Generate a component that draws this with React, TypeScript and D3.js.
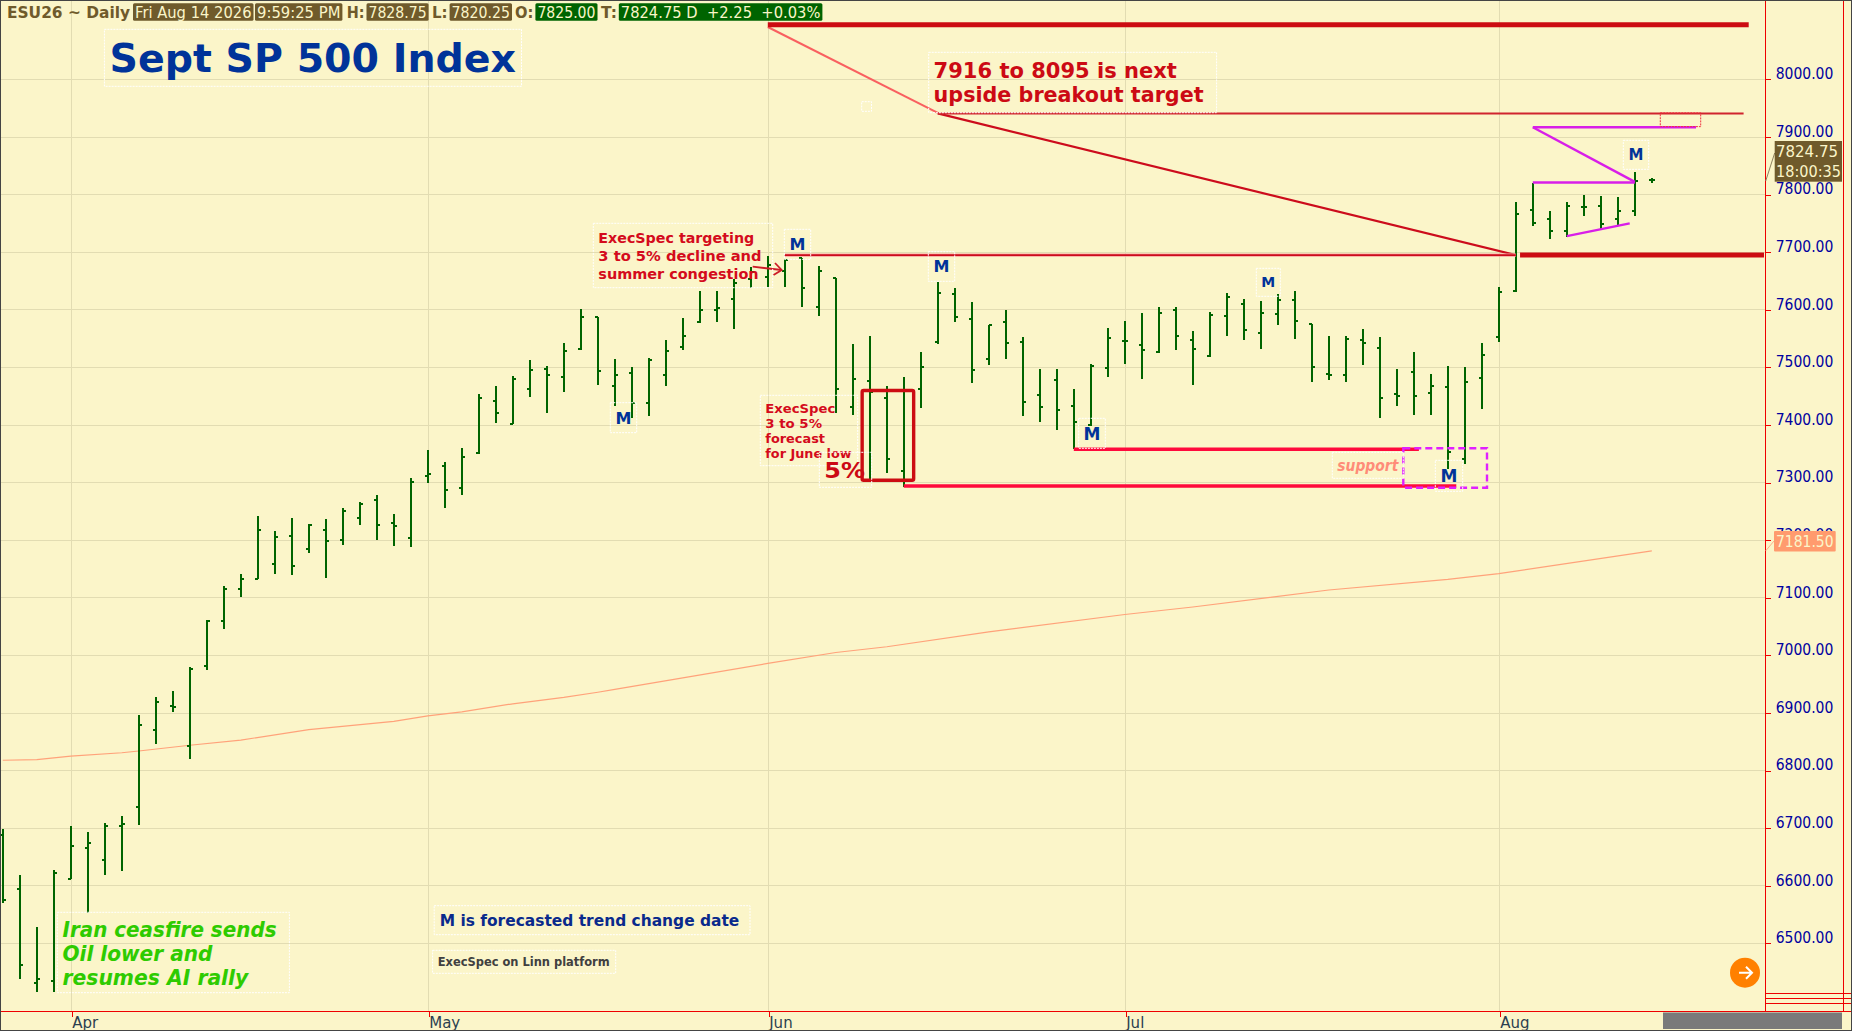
import React, { useEffect, useRef } from 'react';
import * as d3 from 'd3';

const WIDTH = 1852;
const HEIGHT = 1031;

// daily OHLC bars
const barOpen = [6689,6594,6431,6435,6612,6666,6645,6704,6736,6870,6913,6842,6981,7060,7116,7133,7159,7208,7185,7218,7200,7239,7270,7230,7204,7312,7328,7291,7351,7442,7402,7463,7498,7484,7532,7588,7467,7490,7438,7486,7535,7578,7599,7618,7653,7657,7668,7690,7605,7655,7432,7476,7447,7321,7462,7544,7628,7584,7514,7578,7544,7452,7478,7433,7400,7499,7545,7539,7526,7599,7547,7519,7589,7610,7559,7592,7617,7575,7488,7486,7547,7533,7453,7492,7455,7466,7341,7481,7552,7633,7773,7758,7737,7779,7780,7758,7772,7825];
const barHigh = [6699,6618,6529,6628,6704,6694,6709,6722,6897,6928,6939,6979,7061,7120,7142,7242,7216,7238,7228,7237,7256,7266,7278,7245,7308,7356,7336,7360,7454,7468,7485,7513,7502,7542,7601,7588,7514,7500,7517,7547,7585,7632,7632,7654,7675,7694,7688,7690,7676,7655,7541,7555,7468,7484,7527,7649,7638,7614,7573,7600,7552,7498,7498,7462,7506,7569,7581,7595,7604,7604,7564,7597,7630,7618,7616,7628,7633,7576,7554,7555,7566,7552,7498,7526,7488,7503,7500,7543,7640,7787,7821,7771,7787,7799,7797,7795,7839,7828.75];
const barLow = [6570,6439,6415,6415,6612,6553,6618,6625,6705,6846,6901,6820,6974,7046,7101,7132,7142,7139,7178,7135,7191,7226,7200,7190,7189,7300,7256,7279,7350,7404,7401,7449,7421,7458,7531,7469,7433,7412,7415,7467,7530,7577,7578,7566,7637,7640,7639,7605,7589,7421,7417,7304,7316,7292,7429,7541,7578,7473,7505,7514,7415,7405,7391,7359,7399,7483,7506,7480,7525,7530,7469,7518,7554,7547,7532,7573,7549,7474,7478,7474,7504,7412,7433,7417,7417,7324,7332,7427,7544,7631,7746,7723,7727,7763,7738,7747,7763,7820.25];
const barClose = [6576,6462,6438,6622,6669,6674,6703,6708,6879,6919,6910,6977,7060,7116,7133,7218,7205,7155,7227,7199,7251,7263,7227,7225,7301,7315,7288,7345,7447,7421,7479,7496,7486,7529,7587,7493,7486,7438,7512,7528,7554,7599,7603,7646,7665,7677,7687,7637,7667,7463,7479,7457,7341,7460,7500,7629,7588,7495,7573,7543,7440,7431,7426,7405,7503,7551,7545,7530,7594,7554,7532,7591,7622,7565,7594,7617,7580,7500,7486,7549,7542,7447,7450,7450,7467,7353,7474,7521,7631,7767,7751,7736,7780,7779,7749,7772,7823,7824.75];

// 200 day average
const maIndex = [0,2,4,7,8,11,14,18,23,25,27,30,33,35,36,40,45,49,52,58,66,70,78,85,88,97];
const maValue = [6818,6819,6825,6831,6834,6844,6853,6871,6885.5,6895,6902,6916,6927,6936,6941,6961,6986,7005,7015,7041,7071,7084,7113.5,7132,7142,7181.5];

const priceTicks = [6500,6600,6700,6800,6900,7000,7100,7200,7300,7400,7500,7600,7700,7800,7900,8000];
const monthIndex = [4,25,45,66,88];
const monthLabels = ['Apr','May','Jun','Jul','Aug'];

// trend lines as [start bar, start price, end bar, end price]
const darkThick = [[45,8095,102.7,8095],[89.25,7695,103.6,7695]];
const pinkThick = [[53,7294,85.5,7294],[63,7358,83.3,7358]];
const magentaLines = [[90,7917,99.6,7917],[90,7917,96,7822],[90,7821,96,7821],[92,7728,95.7,7750]];

const headerItems = [
  { t: 'ESU26 ~ Daily', x0: 7, x1: 130, fill: null },
  { t: 'Fri Aug 14 2026', x0: 133, x1: 253.5, fill: '#6f5a2b' },
  { t: '9:59:25 PM', x0: 255, x1: 342.4, fill: '#6f5a2b' },
  { t: 'H:', x0: 346.8, x1: 364.6, fill: null },
  { t: '7828.75', x0: 366.5, x1: 428.6, fill: '#6f5a2b' },
  { t: 'L:', x0: 432, x1: 447.6, fill: null },
  { t: '7820.25', x0: 449.6, x1: 512, fill: '#6f5a2b' },
  { t: 'O:', x0: 515, x1: 533.4, fill: null },
  { t: '7825.00', x0: 535.4, x1: 597.5, fill: '#006400' },
  { t: 'T:', x0: 601, x1: 617, fill: null },
  { t: '7824.75 D  +2.25  +0.03%', x0: 618.8, x1: 822.4, fill: '#006400' }
];

const notes = [
  { box: [104.4,29.3,521.5,86.3], color: '#003399', size: 38.5, weight: 'bold', lines: [{ t: 'Sept SP 500 Index', x: 109.5, y: 72.3, w: 406.5 }] },
  { box: [928.7,52.3,1216.6,112.7], color: '#cc0a14', size: 22, weight: 'bold', lines: [{ t: '7916 to 8095 is next', x: 933.6, y: 77.7, w: 243.3 }, { t: 'upside breakout target', x: 933.6, y: 102.3, w: 270 }] },
  { box: [593.3,223.3,772.7,287.7], color: '#d40b1c', size: 14.5, weight: 'bold', lines: [{ t: 'ExecSpec targeting', x: 598.3, y: 243.3, w: 156 }, { t: '3 to 5% decline and', x: 598.3, y: 261.3, w: 163.3 }, { t: 'summer congestion', x: 598.3, y: 279.3, w: 160.3 }] },
  { box: [760.3,395.3,857.7,465.7], color: '#d40b1c', size: 12.5, weight: 'bold', lines: [{ t: 'ExecSpec', x: 765.3, y: 413.3, w: 70 }, { t: '3 to 5%', x: 765.3, y: 428.3, w: 56.7 }, { t: 'forecast', x: 765.3, y: 443.3, w: 59.7 }, { t: 'for June low', x: 765.3, y: 458.3, w: 86.3 }] },
  { box: [819.3,452.3,871.7,487.3], color: '#cc0a14', size: 22, weight: 'bold', lines: [{ t: '5%', x: 824.3, y: 478.3, w: 40.7 }] },
  { box: [1332.3,452.3,1403.3,478.3], color: '#ff8c78', size: 15, weight: 'bold', italic: true, lines: [{ t: 'support', x: 1337.3, y: 470.7, w: 61 }] },
  { box: [57.3,912.3,289.4,992.7], color: '#2ecb00', size: 20.5, weight: 'bold', italic: true, lines: [{ t: 'Iran ceasfire sends', x: 62.5, y: 936.7, w: 214 }, { t: 'Oil lower and', x: 62.5, y: 960.7, w: 149.9 }, { t: 'resumes AI rally', x: 62.5, y: 984.7, w: 185.8 }] },
  { box: [434.2,905.7,750,934.7], color: '#0a2a8c', size: 16.5, weight: 'bold', lines: [{ t: 'M is forecasted trend change date', x: 439.7, y: 926, w: 299.6 }] },
  { box: [432.6,950.3,615.7,973.3], color: '#404040', size: 12, weight: 'bold', lines: [{ t: 'ExecSpec on Linn platform', x: 437.7, y: 966, w: 172 }] }
];

const mBoxes = [
  [610.3,402.7,636.7,432.7,16],
  [784.3,229.3,810.7,259.3,16],
  [928.3,251.7,954.7,281.3,16],
  [1078.7,418.3,1105.3,448.3,17],
  [1256.3,268.3,1280.3,296.3,14],
  [1435.3,460.3,1462.7,491.3,17],
  [1623.3,140.3,1648.7,169.3,15]
];

const FONT = '"DejaVu Sans", sans-serif';

export default function App() {
  const svgRef = useRef<SVGSVGElement>(null);

  useEffect(() => {
    if (!svgRef.current) return;
    const svg = d3.select(svgRef.current);
    svg.selectAll('*').remove();

    const plotRight = 1765.7;
    const plotBottom = 1011.7;
    const xScale = d3.scaleLinear().domain([0, 97]).range([2.8, 1651.8]);
    const yScale = d3.scaleLinear().domain([6500, 8000]).range([943.4, 79.4]);

    const addText = (g: any, t: string, x: number, y: number, size: number, color: string, w?: number, weight = 'normal', italic = false) => {
      const el = g.append('text')
        .attr('x', x).attr('y', y)
        .attr('font-family', FONT).attr('font-size', size)
        .attr('font-weight', weight).attr('font-style', italic ? 'italic' : 'normal')
        .attr('fill', color).attr('xml:space', 'preserve')
        .style('white-space', 'pre')
        .text(t);
      if (w) el.attr('textLength', w).attr('lengthAdjust', 'spacingAndGlyphs');
      return el;
    };

    const dashedBox = (g: any, x0: number, y0: number, x1: number, y1: number) => {
      g.append('rect')
        .attr('x', x0).attr('y', y0)
        .attr('width', x1 - x0).attr('height', y1 - y0)
        .attr('fill', 'none').attr('stroke', '#ffffff')
        .attr('stroke-width', 1).attr('stroke-dasharray', '2 1');
    };

    const trend = (g: any, d: number[], color: string, width: number) => {
      g.append('line')
        .attr('x1', xScale(d[0])).attr('y1', yScale(d[1]))
        .attr('x2', xScale(d[2])).attr('y2', yScale(d[3]))
        .attr('stroke', color).attr('stroke-width', width);
    };

    // page background and frame
    svg.append('rect').attr('width', WIDTH).attr('height', HEIGHT).attr('fill', '#fbf5c9');

    // grid
    const grid = svg.append('g').attr('shape-rendering', 'crispEdges');
    priceTicks.forEach(p => {
      grid.append('line')
        .attr('x1', 1).attr('x2', plotRight)
        .attr('y1', yScale(p)).attr('y2', yScale(p))
        .attr('stroke', '#e2dcb2');
    });
    monthIndex.forEach(i => {
      grid.append('line')
        .attr('x1', xScale(i) + 0.9).attr('x2', xScale(i) + 0.9)
        .attr('y1', 0).attr('y2', plotBottom)
        .attr('stroke', '#e2dcb2');
    });

    // moving average
    const maLine = d3.line<number>()
      .x((_, k) => xScale(maIndex[k]))
      .y(d => yScale(d));
    svg.append('path')
      .attr('d', maLine(maValue))
      .attr('fill', 'none').attr('stroke', '#ffa27a').attr('stroke-width', 1.2);

    // OHLC bars
    const bars = svg.append('g').attr('fill', '#006400').attr('shape-rendering', 'crispEdges');
    barHigh.forEach((high, i) => {
      const x = Math.round(xScale(i));
      bars.append('rect')
        .attr('x', x - 1).attr('y', yScale(high))
        .attr('width', 2).attr('height', yScale(barLow[i]) - yScale(high));
      bars.append('rect')
        .attr('x', x - 3).attr('y', yScale(barOpen[i]) - 1)
        .attr('width', 3).attr('height', 2);
      bars.append('rect')
        .attr('x', x).attr('y', yScale(barClose[i]) - 1)
        .attr('width', 3).attr('height', 2);
    });

    // trend lines
    const lines = svg.append('g');
    trend(lines, [45, 8091, 55, 7942], '#f96060', 2);
    trend(lines, [55, 7941, 89, 7695], '#cc0c1c', 2.2);
    trend(lines, [55, 7941, 102.4, 7941], '#d0242e', 2);
    trend(lines, [46, 7695, 89, 7695], '#f8a0a0', 3.2);
    trend(lines, [46, 7695, 89, 7695], '#cc0c1c', 1.6);
    darkThick.forEach(d => trend(lines, d, '#cc0c12', 5));
    pinkThick.forEach(d => trend(lines, d, '#ff0a3c', 3.5));
    magentaLines.forEach(d => trend(lines, d, '#d81ee8', 2.4));

    // forecast boxes
    lines.append('rect')
      .attr('x', xScale(50.55)).attr('y', yScale(7460))
      .attr('width', xScale(53.58) - xScale(50.55)).attr('height', yScale(7304) - yScale(7460))
      .attr('rx', 1.5)
      .attr('fill', 'none').attr('stroke', '#cc0c12').attr('stroke-width', 3.4);
    lines.append('rect')
      .attr('x', 1403.3).attr('y', 448.3).attr('width', 83.7).attr('height', 39.4)
      .attr('fill', 'none').attr('stroke', '#e020ff').attr('stroke-width', 2.4).attr('stroke-dasharray', '7 4');
    lines.append('rect')
      .attr('x', 1660.3).attr('y', yScale(7942)).attr('width', 40.4).attr('height', yScale(7918) - yScale(7942))
      .attr('fill', 'none').attr('stroke', '#f03040').attr('stroke-width', 1).attr('stroke-dasharray', '2 1');

    // arrow into the June high
    const arrow = svg.append('g').attr('stroke', '#cc1c28').attr('stroke-width', 1.8).attr('fill', 'none');
    arrow.append('path').attr('d', 'M752.7,266.7L781.7,270');
    arrow.append('path').attr('d', 'M775,263L781.7,270L773.5,275');

    // notes
    const noteLayer = svg.append('g');
    notes.forEach(n => {
      dashedBox(noteLayer, n.box[0], n.box[1], n.box[2], n.box[3]);
      n.lines.forEach(l => addText(noteLayer, l.t, l.x, l.y, n.size, n.color, l.w, n.weight, n.italic));
    });
    dashedBox(noteLayer, 861.7, 101.7, 871.5, 111.3);
    mBoxes.forEach(b => {
      dashedBox(noteLayer, b[0], b[1], b[2], b[3]);
      addText(noteLayer, 'M', (b[0] + b[2]) / 2, (b[1] + b[3]) / 2 + b[4] * 0.37, b[4], '#003399', undefined, 'bold')
        .attr('text-anchor', 'middle');
    });

    // header strip
    const header = svg.append('g');
    headerItems.forEach(h => {
      if (h.fill) {
        header.append('rect')
          .attr('x', h.x0).attr('y', 3.3)
          .attr('width', h.x1 - h.x0).attr('height', 17.4)
          .attr('rx', 1.5).attr('fill', h.fill);
      }
      addText(header, h.t, h.x0 + (h.fill ? 2 : 0), 18, 15.5, h.fill ? '#fbf5c9' : '#6f5a2b',
        h.x1 - h.x0 - (h.fill ? 4 : 0), h.fill ? 'normal' : 'bold');
    });

    // price axis
    const yAxis = d3.axisRight(yScale)
      .tickValues(priceTicks)
      .tickSize(5)
      .tickFormat(d => (d as number).toFixed(2));
    const yAxisG = svg.append('g')
      .attr('transform', `translate(${plotRight},0)`)
      .call(yAxis as any);
    yAxisG.select('.domain').remove();
    yAxisG.selectAll('line').attr('stroke', '#ee0000').attr('shape-rendering', 'crispEdges');
    yAxisG.selectAll('text')
      .attr('x', 10).attr('dy', '-0.05em')
      .attr('font-family', FONT).attr('font-size', 15)
      .attr('fill', '#0000a0')
      .attr('textLength', 57.6).attr('lengthAdjust', 'spacingAndGlyphs');

    // date axis
    const xAxis = d3.axisBottom(xScale)
      .tickValues(monthIndex)
      .tickSize(5)
      .tickFormat((_, k) => monthLabels[k]);
    const xAxisG = svg.append('g')
      .attr('transform', `translate(0.9,${plotBottom})`)
      .call(xAxis as any);
    xAxisG.select('.domain').remove();
    xAxisG.selectAll('line').attr('stroke', '#ee0000').attr('shape-rendering', 'crispEdges');
    xAxisG.selectAll('text')
      .attr('text-anchor', 'start').attr('y', 16.5).attr('dy', 0)
      .attr('font-family', FONT).attr('font-size', 15)
      .attr('fill', '#2b3f4f');

    // frame lines
    const frame = svg.append('g').attr('stroke', '#ee0000').attr('shape-rendering', 'crispEdges');
    frame.append('line').attr('x1', 1).attr('x2', WIDTH).attr('y1', plotBottom).attr('y2', plotBottom);
    frame.append('line').attr('x1', plotRight).attr('x2', plotRight).attr('y1', 0).attr('y2', plotBottom);
    frame.append('line').attr('x1', 1843.3).attr('x2', 1843.3).attr('y1', 0).attr('y2', plotBottom);
    [993.4, 998.5, 1003.2].forEach(y => {
      frame.append('line').attr('x1', plotRight).attr('x2', WIDTH).attr('y1', y).attr('y2', y);
    });
    const edge = svg.append('g').attr('stroke', '#444444').attr('shape-rendering', 'crispEdges');
    edge.append('rect').attr('x', 0.5).attr('y', 0.5).attr('width', WIDTH - 1).attr('height', HEIGHT - 1).attr('fill', 'none');

    // scroll bar block
    svg.append('rect').attr('x', 1663).attr('y', 1012.5).attr('width', 179).attr('height', 16.5).attr('fill', '#7a7a7a');

    // last price and average badges
    const badges = svg.append('g');
    badges.append('line')
      .attr('x1', plotRight).attr('y1', 181).attr('x2', 1774.7).attr('y2', 153)
      .attr('stroke', '#8c8060');
    badges.append('rect').attr('x', 1774.7).attr('y', 141).attr('width', 67.3).attr('height', 40.7).attr('fill', '#6f5a2b');
    addText(badges, '7824.75', 1776, 157, 15, '#fbf5c9', 62);
    addText(badges, '18:00:35', 1776, 177, 15, '#fbf5c9', 65);
    badges.append('line')
      .attr('x1', plotRight).attr('y1', yScale(7181.5)).attr('x2', 1774).attr('y2', 541)
      .attr('stroke', '#ffb08c');
    badges.append('rect').attr('x', 1774).attr('y', 531).attr('width', 61.7).attr('height', 20.5).attr('rx', 1).attr('fill', '#ff9b6e');
    addText(badges, '7181.50', 1776, 547, 15, '#fbf5c9', 57.6);

    // go-to-latest button
    const btn = svg.append('g').attr('transform', 'translate(1745,972.7)');
    btn.append('circle').attr('r', 15).attr('fill', '#ff8000');
    btn.append('path').attr('d', 'M-6,0H6M1,-6L7,0L1,6')
      .attr('fill', 'none').attr('stroke', '#ffffff').attr('stroke-width', 2);
  }, []);

  return (
    <svg
      ref={svgRef}
      width={WIDTH}
      height={HEIGHT}
      style={{ position: 'fixed', left: 0, top: 0, display: 'block' }}
    />
  );
}
